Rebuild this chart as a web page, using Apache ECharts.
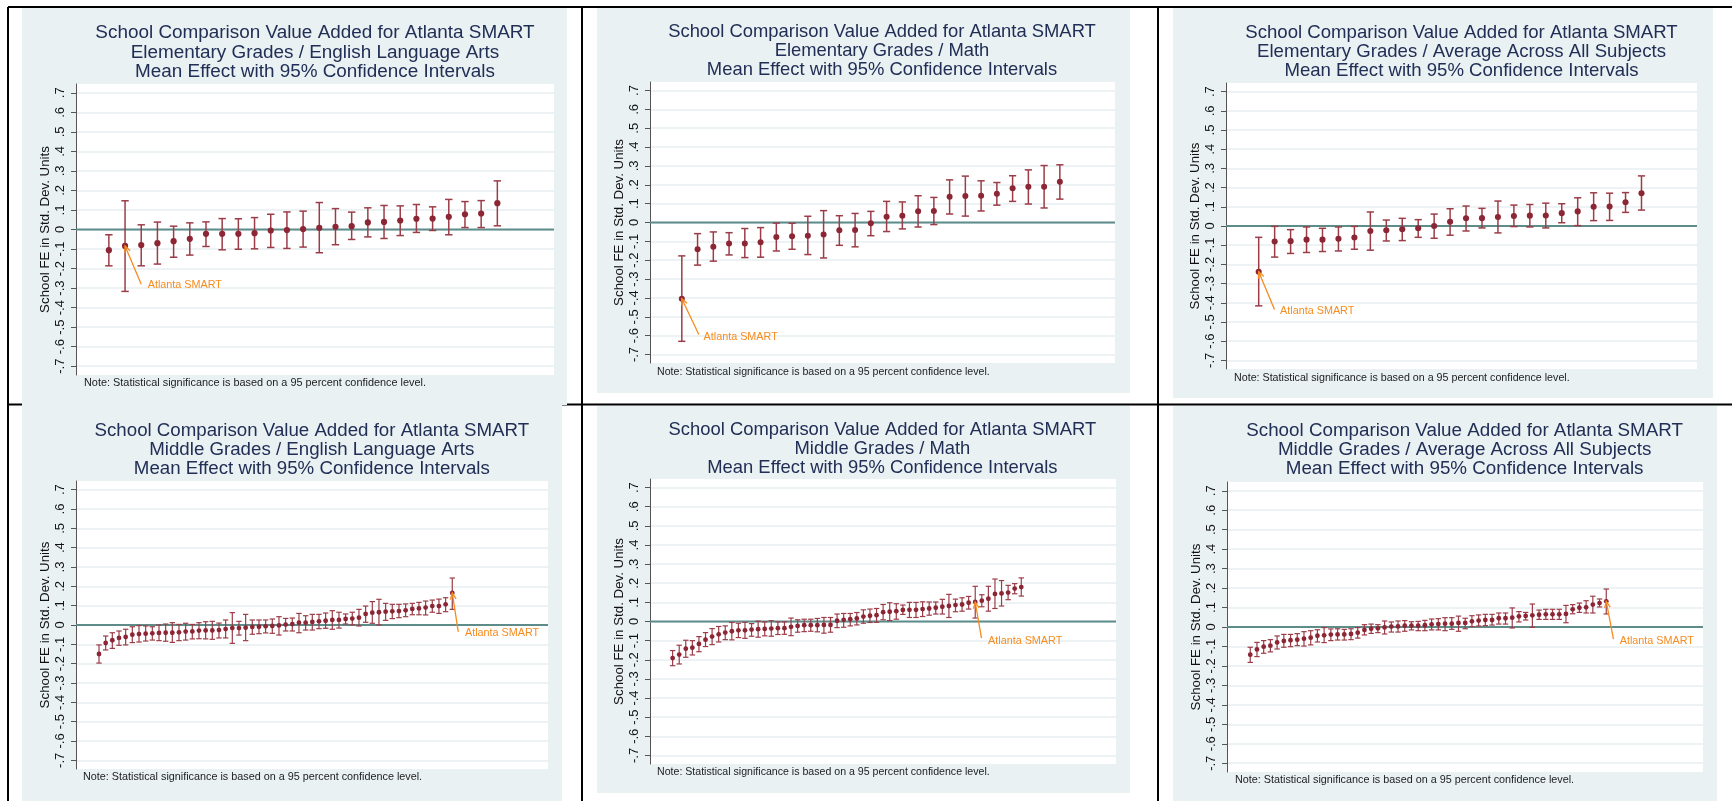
<!DOCTYPE html>
<html><head><meta charset="utf-8">
<script src="https://cdn.jsdelivr.net/npm/echarts@6/dist/echarts.min.js"></script>
<style>html,body{margin:0;padding:0;background:#fff;}#c{width:1732px;height:801px;}</style>
</head><body><div id="c"></div>
<script>
// ---------- DATA ----------
const yTicks = [-0.7,-0.6,-0.5,-0.4,-0.3,-0.2,-0.1,0,0.1,0.2,0.3,0.4,0.5,0.6,0.7];
const annotationText = 'Atlanta SMART';
const titleLine1 = 'School Comparison Value Added for Atlanta SMART';
const titleLine3 = 'Mean Effect with 95% Confidence Intervals';
const subTitles = ['Elementary Grades / English Language Arts','Elementary Grades / Math','Elementary Grades / Average Across All Subjects',
                   'Middle Grades / English Language Arts','Middle Grades / Math','Middle Grades / Average Across All Subjects'];
const yAxisTitle = 'School FE in Std. Dev. Units';
const noteText = 'Note: Statistical significance is based on a 95 percent confidence level.';

// Elementary ELA (Atlanta SMART = school 2)
const elemElaMean  = [-0.106,-0.084,-0.080,-0.070,-0.060,-0.048,-0.022,-0.022,-0.022,-0.019,-0.005,-0.003,0.002,0.009,0.014,0.017,0.036,0.039,0.046,0.055,0.056,0.065,0.078,0.082,0.135];
const elemElaUpper = [-0.027,0.147,0.024,0.038,0.017,0.034,0.039,0.056,0.055,0.061,0.078,0.090,0.094,0.138,0.107,0.089,0.111,0.123,0.121,0.128,0.116,0.154,0.143,0.148,0.249];
const elemElaLower = [-0.186,-0.317,-0.186,-0.177,-0.142,-0.131,-0.087,-0.104,-0.101,-0.099,-0.092,-0.097,-0.090,-0.119,-0.078,-0.051,-0.038,-0.046,-0.031,-0.015,-0.005,-0.027,0.010,0.010,0.019];
// Elementary Math (Atlanta SMART = school 1)
const elemMathMean  = [-0.404,-0.142,-0.128,-0.112,-0.112,-0.105,-0.077,-0.073,-0.070,-0.064,-0.041,-0.040,-0.004,0.031,0.036,0.059,0.061,0.137,0.140,0.142,0.152,0.181,0.189,0.189,0.216];
const elemMathUpper = [-0.177,-0.059,-0.050,-0.054,-0.032,-0.027,-0.003,-0.004,0.033,0.063,0.036,0.048,0.059,0.112,0.109,0.142,0.133,0.226,0.246,0.221,0.212,0.248,0.279,0.302,0.306];
const elemMathLower = [-0.630,-0.226,-0.205,-0.172,-0.186,-0.184,-0.151,-0.142,-0.170,-0.188,-0.121,-0.129,-0.070,-0.048,-0.034,-0.024,-0.011,0.045,0.034,0.061,0.092,0.112,0.098,0.077,0.124];
// Elementary Average (Atlanta SMART = school 1)
const elemAvgMean  = [-0.238,-0.081,-0.079,-0.071,-0.071,-0.067,-0.060,-0.026,-0.022,-0.017,-0.012,0.000,0.022,0.040,0.041,0.047,0.052,0.054,0.055,0.067,0.076,0.100,0.101,0.124,0.171];
const elemAvgUpper = [-0.059,-0.002,-0.019,-0.005,-0.012,-0.005,-0.002,0.073,0.031,0.040,0.033,0.062,0.090,0.104,0.092,0.130,0.109,0.112,0.119,0.116,0.147,0.173,0.171,0.174,0.261];
const elemAvgLower = [-0.416,-0.162,-0.143,-0.138,-0.133,-0.130,-0.121,-0.126,-0.078,-0.076,-0.059,-0.064,-0.048,-0.026,-0.010,-0.036,-0.003,-0.005,-0.010,0.017,0.002,0.028,0.029,0.071,0.083];
// Middle ELA (Atlanta SMART = school 54)
const midElaMean  = [-0.150,-0.093,-0.079,-0.067,-0.062,-0.050,-0.047,-0.045,-0.043,-0.041,-0.040,-0.040,-0.038,-0.034,-0.033,-0.029,-0.028,-0.028,-0.026,-0.021,-0.016,-0.016,-0.014,-0.010,-0.009,-0.007,-0.005,
                     -0.002,0.002,0.005,0.012,0.012,0.016,0.019,0.022,0.026,0.026,0.031,0.033,0.038,0.057,0.064,0.066,0.069,0.071,0.072,0.076,0.083,0.086,0.090,0.098,0.098,0.107,0.166];
const midElaUpper = [-0.103,-0.057,-0.040,-0.031,-0.022,-0.009,-0.003,-0.005,-0.009,0.000,0.005,0.012,0.003,0.009,0.003,0.012,0.017,0.019,0.010,0.026,0.064,0.019,0.055,0.026,0.026,0.026,0.031,
                     0.043,0.034,0.036,0.060,0.048,0.055,0.055,0.062,0.074,0.066,0.057,0.066,0.081,0.098,0.121,0.133,0.112,0.107,0.107,0.109,0.112,0.117,0.124,0.129,0.134,0.141,0.243];
const midElaLower = [-0.197,-0.129,-0.121,-0.105,-0.103,-0.091,-0.088,-0.083,-0.078,-0.081,-0.084,-0.090,-0.081,-0.078,-0.072,-0.071,-0.072,-0.074,-0.067,-0.067,-0.095,-0.052,-0.081,-0.048,-0.045,-0.041,-0.043,
                     -0.052,-0.031,-0.031,-0.040,-0.026,-0.026,-0.019,-0.017,-0.022,-0.016,0.005,0.000,-0.005,0.014,0.009,0.000,0.024,0.033,0.038,0.043,0.053,0.053,0.052,0.066,0.060,0.069,0.081];
// Middle Math (Atlanta SMART = school 47)
const midMathMean  = [-0.191,-0.173,-0.142,-0.137,-0.117,-0.095,-0.079,-0.067,-0.058,-0.051,-0.046,-0.046,-0.042,-0.040,-0.039,-0.037,-0.035,-0.035,-0.028,-0.023,-0.019,-0.019,-0.019,-0.018,-0.018,0.004,0.009,
                      0.012,0.016,0.026,0.030,0.033,0.049,0.051,0.054,0.060,0.061,0.061,0.065,0.068,0.072,0.077,0.081,0.086,0.089,0.098,0.102,0.109,0.119,0.144,0.147,0.151,0.172,0.180];
const midMathUpper = [-0.152,-0.124,-0.098,-0.100,-0.079,-0.058,-0.037,-0.026,-0.023,-0.005,-0.009,-0.004,-0.011,0.002,-0.002,0.004,-0.002,-0.002,0.018,0.009,0.012,0.012,0.016,0.021,0.021,0.039,0.042,
                      0.042,0.047,0.061,0.065,0.068,0.089,0.098,0.093,0.086,0.100,0.100,0.103,0.102,0.102,0.116,0.142,0.117,0.124,0.131,0.184,0.140,0.184,0.222,0.214,0.189,0.198,0.228];
const midMathLower = [-0.231,-0.222,-0.187,-0.175,-0.158,-0.131,-0.121,-0.107,-0.095,-0.096,-0.084,-0.088,-0.077,-0.082,-0.075,-0.077,-0.068,-0.067,-0.074,-0.056,-0.053,-0.051,-0.054,-0.061,-0.056,-0.032,-0.030,
                      -0.023,-0.018,-0.009,-0.005,-0.004,0.009,0.005,0.012,0.037,0.021,0.021,0.026,0.033,0.039,0.039,0.021,0.051,0.054,0.065,0.018,0.077,0.054,0.068,0.081,0.114,0.145,0.133];
// Middle Average (Atlanta SMART = school 54)
const midAvgMean  = [-0.142,-0.115,-0.101,-0.096,-0.079,-0.072,-0.068,-0.065,-0.060,-0.055,-0.045,-0.043,-0.039,-0.038,-0.038,-0.036,-0.029,-0.015,-0.009,-0.007,-0.002,0.002,0.003,0.007,0.007,0.007,0.009,
                     0.014,0.015,0.017,0.017,0.021,0.021,0.029,0.033,0.036,0.036,0.045,0.045,0.048,0.055,0.057,0.060,0.063,0.065,0.065,0.065,0.067,0.091,0.099,0.101,0.115,0.123,0.132];
const midAvgUpper = [-0.104,-0.079,-0.070,-0.065,-0.046,-0.038,-0.038,-0.034,-0.024,-0.019,-0.014,-0.003,-0.010,-0.009,-0.012,-0.009,-0.003,0.012,0.015,0.012,0.031,0.026,0.031,0.033,0.027,0.029,0.034,
                     0.041,0.043,0.048,0.048,0.056,0.045,0.058,0.062,0.065,0.065,0.072,0.072,0.098,0.079,0.075,0.118,0.087,0.091,0.091,0.091,0.111,0.115,0.123,0.135,0.158,0.144,0.195];
const midAvgLower = [-0.182,-0.152,-0.135,-0.128,-0.113,-0.104,-0.101,-0.096,-0.098,-0.092,-0.077,-0.080,-0.070,-0.067,-0.067,-0.065,-0.057,-0.041,-0.033,-0.029,-0.036,-0.026,-0.026,-0.022,-0.015,-0.019,-0.019,
                     -0.015,-0.015,-0.019,-0.012,-0.022,-0.009,0.002,0.005,0.007,0.010,0.015,0.015,-0.005,0.026,0.036,-0.002,0.039,0.039,0.039,0.039,0.022,0.068,0.075,0.072,0.072,0.103,0.067];
const atlantaSchool = [2, 1, 1, 54, 47, 54];

// ---------- LAYOUT ----------
const FONT = '"Liberation Sans", Arial, sans-serif';
const COL = {bg:'#e9f1f3', title:'#212e55', dot:'#8c2534', bar:'#9b3d48', zero:'#5d8c89', grid:'#e7eff1', axis:'#555', text:'#111', orange:'#f68b1f'};
const panels = [
 {mean:elemElaMean, up:elemElaUpper, lo:elemElaLower, grid:{left:76,top:84,width:478,height:291}, xr:[-1.03,28.5],
  tx:315, ty:52.7, ts:18.9, tl:19.5, nx:84, ny:383.3, ns:10.9, lab:[3.40,-0.285], from:[3.0,-0.280], cap:3.7, dot:6.2, bw:1.5,
  bg:[22,8,545,397]},
 {mean:elemMathMean, up:elemMathUpper, lo:elemMathLower, grid:{left:650,top:82,width:465,height:281}, xr:[-1.02,28.5],
  tx:882, ty:51.3, ts:18.4, tl:18.9, nx:657, ny:371.7, ns:10.6, lab:[2.38,-0.606], from:[2.08,-0.594], cap:3.6, dot:6, bw:1.5,
  bg:[597,8,533,385]},
 {mean:elemAvgMean, up:elemAvgUpper, lo:elemAvgLower, grid:{left:1226,top:83,width:471,height:286}, xr:[-1.05,28.48],
  tx:1461.5, ty:52.2, ts:18.6, tl:18.9, nx:1234, ny:377.7, ns:10.7, lab:[2.34,-0.441], from:[1.99,-0.435], cap:3.6, dot:6.1, bw:1.5,
  bg:[1173,8,540,390]},
 {mean:midElaMean, up:midElaUpper, lo:midElaLower, grid:{left:76,top:481,width:472,height:288}, xr:[-2.45,68.36],
  tx:311.8, ty:450, ts:18.7, tl:18.9, nx:83, ny:777, ns:10.8, lab:[55.9,-0.043], from:[54.9,-0.036], cap:2.7, dot:4.8, bw:1.2,
  bg:[22,403,540,398]},
 {mean:midMathMean, up:midMathUpper, lo:midMathLower, grid:{left:650,top:479,width:466,height:285}, xr:[-2.44,68.4],
  tx:882.4, ty:449.1, ts:18.4, tl:18.7, nx:657, ny:771.7, ns:10.6, lab:[48.95,-0.100], from:[47.95,-0.087], cap:2.7, dot:4.8, bw:1.2,
  bg:[597,406,533,387]},
 {mean:midAvgMean, up:midAvgUpper, lo:midAvgLower, grid:{left:1227,top:482,width:476,height:290}, xr:[-2.46,68.4],
  tx:1464.6, ty:450.1, ts:18.8, tl:19.2, nx:1235, ny:780.3, ns:10.8, lab:[56.0,-0.070], from:[55.07,-0.062], cap:2.7, dot:4.8, bw:1.2,
  bg:[1173,406,544,395]}
];

function fmtTick(v){
  if (Math.abs(v) < 1e-9) return '0';
  return (v < 0 ? '-' : '') + Math.abs(v).toFixed(1).replace(/^0/, '');
}

const grids = [], xAxes = [], yAxes = [], series = [], graphics = [];

// table lines & panel backgrounds
graphics.push({type:'line', z:-20, shape:{x1:8,y1:404.5,x2:1732,y2:404.5}, style:{stroke:'#000', lineWidth:2}});
panels.forEach(p => graphics.push({type:'rect', z:-10, shape:{x:p.bg[0],y:p.bg[1],width:p.bg[2],height:p.bg[3]}, style:{fill:COL.bg}}));
[[8,7,1732,7],[8,7,8,801],[582,7,582,801],[1158,7,1158,801]].forEach(l =>
  graphics.push({type:'line', z:-5, shape:{x1:l[0],y1:l[1],x2:l[2],y2:l[3]}, style:{stroke:'#000', lineWidth:2}}));

panels.forEach((p, i) => {
  grids.push(Object.assign({show:true, backgroundColor:'#fff', borderWidth:0}, p.grid));
  xAxes.push({type:'value', gridIndex:i, min:p.xr[0], max:p.xr[1], show:false});
  yAxes.push({type:'value', gridIndex:i, min:-0.745, max:0.745,
    axisLine:{show:true, onZero:false, lineStyle:{color:COL.axis, width:1}},
    axisTick:{show:true, length:5, lineStyle:{color:COL.axis, width:1}, customValues:yTicks},
    axisLabel:{customValues:yTicks, rotate:90, formatter:fmtTick, fontSize:13, color:COL.text, margin:9, fontFamily:FONT},
    splitLine:{show:true, lineStyle:{color:COL.grid, width:1.5}},
    name:yAxisTitle, nameLocation:'middle', nameGap:24, nameRotate:90,
    nameTextStyle:{fontSize:13.3, color:COL.text, fontFamily:FONT}
  });
  // zero reference line
  series.push({type:'line', xAxisIndex:i, yAxisIndex:i, data:[[p.xr[0],0],[p.xr[1],0]], showSymbol:false, silent:true, z:1,
    lineStyle:{color:COL.zero, width:2}});
  // confidence intervals
  const cap = p.cap, bw = p.bw;
  series.push({type:'custom', xAxisIndex:i, yAxisIndex:i, z:2, silent:true,
    data: p.mean.map((m, k) => [k + 1, p.lo[k], p.up[k]]),
    encode:{x:0, y:[1,2]},
    renderItem:(params, api) => {
      const x = api.value(0);
      const a = api.coord([x, api.value(1)]), b = api.coord([x, api.value(2)]);
      const st = {stroke:COL.bar, lineWidth:bw};
      return {type:'group', children:[
        {type:'line', shape:{x1:a[0],y1:a[1],x2:b[0],y2:b[1]}, style:st},
        {type:'line', shape:{x1:a[0]-cap,y1:a[1],x2:a[0]+cap,y2:a[1]}, style:st},
        {type:'line', shape:{x1:b[0]-cap,y1:b[1],x2:b[0]+cap,y2:b[1]}, style:st}
      ]};
    }
  });
  // means
  series.push({type:'scatter', xAxisIndex:i, yAxisIndex:i, z:3, silent:true, symbol:'circle', symbolSize:p.dot,
    itemStyle:{color:COL.dot, opacity:1}, data:p.mean.map((m, k) => [k + 1, m])});
  // Atlanta SMART annotation
  const ai = atlantaSchool[i];
  series.push({type:'custom', xAxisIndex:i, yAxisIndex:i, z:4, silent:true, clip:false,
    data:[[p.lab[0], p.lab[1], p.from[0], p.from[1], ai, p.mean[ai - 1]]],
    encode:{x:[0,2,4], y:[1,3,5]},
    renderItem:(params, api) => {
      const L = api.coord([api.value(0), api.value(1)]);
      const F = api.coord([api.value(2), api.value(3)]);
      const T = api.coord([api.value(4), api.value(5)]);
      const ang = Math.atan2(T[1] - F[1], T[0] - F[0]);
      const len = 7, spread = 0.42;
      const b1 = [T[0] - len * Math.cos(ang - spread), T[1] - len * Math.sin(ang - spread)];
      const b2 = [T[0] - len * Math.cos(ang + spread), T[1] - len * Math.sin(ang + spread)];
      const st = {stroke:COL.orange, lineWidth:1.3, fill:null};
      return {type:'group', children:[
        {type:'line', shape:{x1:F[0],y1:F[1],x2:T[0],y2:T[1]}, style:st},
        {type:'polyline', shape:{points:[b1, T, b2]}, style:st},
        {type:'text', x:L[0], y:L[1], style:{text:annotationText, fill:COL.orange, font:'10.8px ' + FONT, align:'left', verticalAlign:'middle'}}
      ]};
    }
  });
  // titles and notes
  graphics.push({type:'text', z:10, x:p.tx, y:p.ty, style:{text:titleLine1 + '\n' + subTitles[i] + '\n' + titleLine3,
    font:p.ts + 'px ' + FONT, fill:COL.title, align:'center', verticalAlign:'middle', lineHeight:p.tl}});
  graphics.push({type:'text', z:10, x:p.nx, y:p.ny, style:{text:noteText, font:p.ns + 'px ' + FONT, fill:'#222',
    align:'left', verticalAlign:'middle'}});
});

const chart = echarts.init(document.getElementById('c'), null, {renderer:'canvas'});
chart.setOption({animation:false, backgroundColor:'#fff', grid:grids, xAxis:xAxes, yAxis:yAxes, series:series, graphic:graphics});
</script></body></html>
